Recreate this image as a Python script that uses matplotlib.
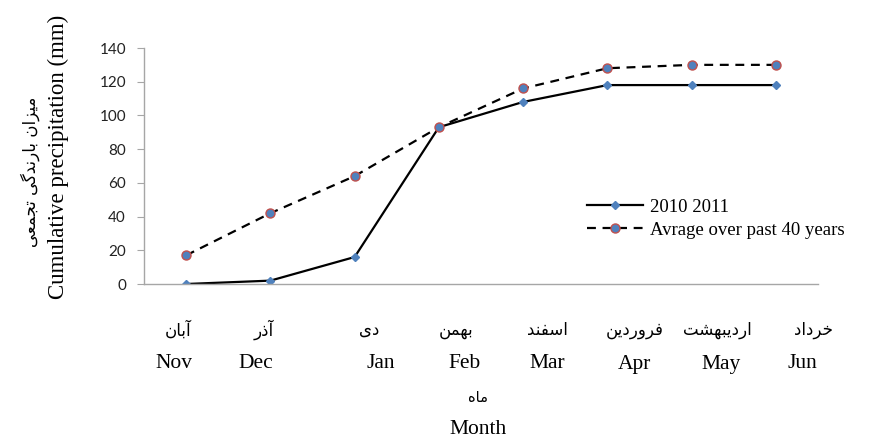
import numpy as np
import matplotlib
matplotlib.use("Agg")
import matplotlib.pyplot as plt
import matplotlib.transforms as mtrans

# ---------------------------------------------------------------- data
months_en = ["Nov", "Dec", "Jan", "Feb", "Mar", "Apr", "May", "Jun"]
months_fa = ["آبان", "آذر", "دی", "بهمن", "اسفند", "فروردین", "اردیبهشت", "خرداد"]
rain_2010 = [0, 2, 16, 93, 108, 118, 118, 118]
rain_avg40 = [17, 42, 64, 93, 116, 128, 130, 130]
series_names = ["2010 2011", "Avrage over past 40 years"]
yticks = [0, 20, 40, 60, 80, 100, 120, 140]

# label nudges (in category units) so the text rows sit like the original
shift_en = [-0.14, -0.17, 0.31, 0.31, 0.29, 0.32, 0.35, 0.32]
shift_fa = [-0.10, -0.08, 0.17, 0.21, 0.29, 0.32, 0.31, 0.44]

# ---------------------------------------------------------------- minimal Persian shaping (no bidi lib offline)
FORMS = {  # isolated, final, initial, medial
    "ا": ("\uFE8D", "\uFE8E"), "آ": ("\uFE81", "\uFE82"),
    "د": ("\uFEA9", "\uFEAA"), "ذ": ("\uFEAB", "\uFEAC"),
    "ر": ("\uFEAD", "\uFEAE"), "ز": ("\uFEAF", "\uFEB0"),
    "و": ("\uFEED", "\uFEEE"),
    "ب": ("\uFE8F", "\uFE90", "\uFE91", "\uFE92"),
    "ت": ("\uFE95", "\uFE96", "\uFE97", "\uFE98"),
    "ج": ("\uFE9D", "\uFE9E", "\uFE9F", "\uFEA0"),
    "خ": ("\uFEA5", "\uFEA6", "\uFEA7", "\uFEA8"),
    "س": ("\uFEB1", "\uFEB2", "\uFEB3", "\uFEB4"),
    "ش": ("\uFEB5", "\uFEB6", "\uFEB7", "\uFEB8"),
    "ع": ("\uFEC9", "\uFECA", "\uFECB", "\uFECC"),
    "ف": ("\uFED1", "\uFED2", "\uFED3", "\uFED4"),
    "م": ("\uFEE1", "\uFEE2", "\uFEE3", "\uFEE4"),
    "ن": ("\uFEE5", "\uFEE6", "\uFEE7", "\uFEE8"),
    "ه": ("\uFEE9", "\uFEEA", "\uFEEB", "\uFEEC"),
    "ی": ("\uFBFC", "\uFBFD", "\uFBFE", "\uFBFF"),
    "گ": ("\uFB92", "\uFB93", "\uFB94", "\uFB95"),
}

def fa(s):
    out = []
    for i, ch in enumerate(s):
        if ch not in FORMS:
            out.append(ch); continue
        prev = s[i - 1] if i > 0 else ""
        nxt = s[i + 1] if i + 1 < len(s) else ""
        jp = prev in FORMS and len(FORMS[prev]) == 4
        jn = len(FORMS[ch]) == 4 and nxt in FORMS
        f = FORMS[ch]
        out.append(f[3] if jp and jn else f[1] if jp else f[2] if jn else f[0])
    return "".join(reversed(out))

# ---------------------------------------------------------------- figure
SERIF = "Liberation Serif"
FA_FONT = ["DejaVu Sans"]
BLUE, RED = "#4f81bd", "#c0504d"

fig = plt.figure(figsize=(8.72, 4.41), dpi=100)
ax = fig.add_axes([144 / 872, 1 - 284 / 441, (818 - 144) / 872, (284 - 48) / 441])

x = np.arange(len(months_en))
ax.plot(x, rain_2010, color="black", lw=1.6, marker="D", ms=4.5,
        mfc=BLUE, mec=BLUE, label=series_names[0])
ax.plot(x, rain_avg40, color="black", lw=1.6, ls=(0, (4, 3)), marker="o", ms=6.5,
        mfc=BLUE, mec=RED, mew=1.0, label=series_names[1])

ax.set_xlim(-0.5, len(months_en) - 0.5)
ax.set_ylim(0, 140)
ax.set_yticks(yticks)
ax.set_yticklabels([str(v) for v in yticks], family="Lato", fontsize=11, color="#222222")
ax.set_xticks([])
for s in ("top", "right"):
    ax.spines[s].set_visible(False)
for s in ("left", "bottom"):
    ax.spines[s].set_color("#a6a6a6")
    ax.spines[s].set_linewidth(1.0)
ax.tick_params(axis="y", length=5, color="#a6a6a6", pad=8)

# month rows under the axis
tr = mtrans.blended_transform_factory(ax.transData, fig.transFigure)
for i, (fa_lbl, en_lbl) in enumerate(zip(months_fa, months_en)):
    ax.text(i + shift_fa[i], 1 - 330 / 441, fa(fa_lbl), transform=tr, ha="center", va="center",
            family=FA_FONT, fontsize=12)
    ax.text(i + shift_en[i], 1 - 364 / 441, en_lbl, transform=tr, ha="center", va="center",
            family=SERIF, fontsize=15.5)

fig.text(478 / 872, 1 - 397 / 441, fa("ماه"), ha="center", va="center", family=FA_FONT, fontsize=10.5)
fig.text(478 / 872, 1 - 429 / 441, "Month", ha="center", va="center", family=SERIF, fontsize=15.5)

fig.text(30 / 872, 1 - 172 / 441, fa("میزان بارندگی تجمعی"), rotation=90, ha="center", va="center",
         family=FA_FONT, fontsize=12)
fig.text(58 / 872, 1 - 157 / 441, "Cumulative precipitation (mm)", rotation=90, ha="center",
         va="center", family=SERIF, fontsize=16.5)

fig.legend(loc="upper left", bbox_to_anchor=(570 / 872, 1 - 182 / 441), frameon=False,
           prop={"family": SERIF, "size": 13.5}, handlelength=3.0, handletextpad=0.35,
           labelspacing=0.3)

fig.savefig("out.png", dpi=100)
